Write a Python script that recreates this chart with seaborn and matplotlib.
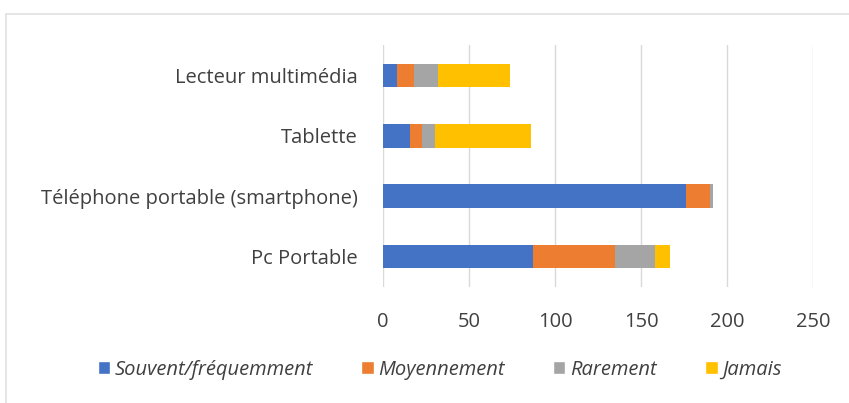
import pandas as pd
import numpy as np
import matplotlib
matplotlib.use('Agg')
import matplotlib.pyplot as plt
from matplotlib.patches import Patch, Rectangle
import seaborn as sns

# data
appareils = ['Lecteur multimédia', 'Tablette', 'Téléphone portable (smartphone)', 'Pc Portable']
series = ['Souvent/fréquemment', 'Moyennement', 'Rarement', 'Jamais']
souvent = [8, 16, 176, 87]
moyennement = [10, 7, 14, 48]
rarement = [14, 7, 2, 23]
jamais = [42, 56, 0, 9]
colors = ['#4472C4', '#ED7D31', '#A5A5A5', '#FFC000']

df = pd.DataFrame({'appareil': appareils,
                   series[0]: souvent, series[1]: moyennement,
                   series[2]: rarement, series[3]: jamais})
# cumulative totals for stacking
cum = df[series].cumsum(axis=1)

sns.set_style('white')
plt.rcParams['font.family'] = ['Open Sans', 'DejaVu Sans']

fig = plt.figure(figsize=(8.49, 4.03), dpi=100)
ax = fig.add_axes([0.451, 0.288, 0.507, 0.600])

# draw largest cumulative first so shorter segments sit on top
for s, c in reversed(list(zip(series, colors))):
    sns.barplot(x=cum[s], y=df['appareil'], color=c, width=0.39,
                orient='h', ax=ax, saturation=1, linewidth=0)

ax.set_xlim(0, 250)
ax.set_xticks(np.arange(0, 251, 50))
ax.xaxis.grid(True, color='#d9d9d9', linewidth=1)
ax.set_axisbelow(True)
for sp in ax.spines.values():
    sp.set_visible(False)
ax.set_xlabel('')
ax.set_ylabel('')
ax.tick_params(axis='both', length=0, labelsize=14.5, colors='#404040')
ax.tick_params(axis='x', pad=18)
ax.tick_params(axis='y', pad=18)

handles = [Patch(facecolor=c, label=s) for s, c in zip(series, colors)]
leg = fig.legend(handles=handles, loc='center', bbox_to_anchor=(0.518, 0.083), ncol=4,
                 frameon=False, prop={'style': 'italic', 'size': 14.5},
                 handlelength=0.6, handleheight=0.6, handletextpad=0.25, columnspacing=2.4)
for t in leg.get_texts():
    t.set_color('#404040')

# light chart frame
fig.patches.append(Rectangle((0.007, -0.01), 1.0, 0.975, transform=fig.transFigure,
                             fill=False, edgecolor='#e0e0e0', linewidth=1.2))

fig.savefig('out.png', dpi=100, facecolor='white')
